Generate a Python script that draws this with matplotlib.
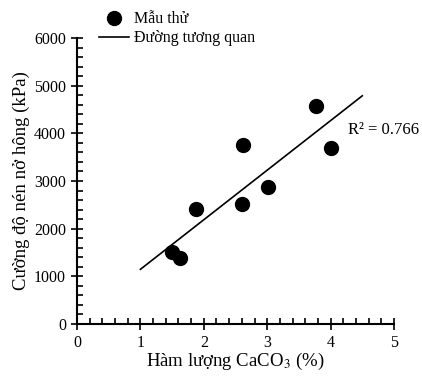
import numpy as np
import matplotlib
matplotlib.use("Agg")
import matplotlib.pyplot as plt
from matplotlib.ticker import MultipleLocator

# số liệu
caco3 = np.array([1.50, 1.62, 1.88, 2.60, 2.62, 3.01, 3.77, 4.01])
cuong_do = np.array([1510, 1385, 2410, 2515, 3750, 2870, 4575, 3690])
x_duong = np.array([1.0, 4.5])
r2_text = "R² = 0.766"

# hồi quy tuyến tính
he_so = np.polyfit(caco3, cuong_do, 1)
y_duong = np.polyval(he_so, x_duong)

plt.rcParams['font.family'] = ['Liberation Serif', 'DejaVu Serif']
plt.rcParams['mathtext.fontset'] = 'stix'

fig = plt.figure(figsize=(4.22, 3.78), dpi=100)
ax = fig.add_axes([0.1825, 0.1429, 0.7511, 0.7566])

ax.plot(caco3, cuong_do, 'o', color='black', markersize=10, label='Mẫu thử', zorder=3)
ax.plot(x_duong, y_duong, '-', color='black', linewidth=1.2, label='Đường tương quan')
ax.text(4.27, 4080, r2_text, fontsize=12, va='center', ha='left', clip_on=False)

ax.set_xlim(0, 5)
ax.set_ylim(0, 6000)
ax.xaxis.set_major_locator(MultipleLocator(1))
ax.xaxis.set_minor_locator(MultipleLocator(0.2))
ax.yaxis.set_major_locator(MultipleLocator(1000))
ax.yaxis.set_minor_locator(MultipleLocator(200))
ax.tick_params(which='major', direction='inout', length=8, width=1.2, labelsize=11.5, pad=4)
ax.tick_params(which='minor', direction='in', length=4, width=1.2)

for s in ['top', 'right']:
    ax.spines[s].set_visible(False)
for s in ['left', 'bottom']:
    ax.spines[s].set_linewidth(1.5)

ax.set_xlabel('Hàm lượng CaCO$_3$ (%)', fontsize=13.5, labelpad=0)
ax.set_ylabel('Cường độ nén nở hông (kPa)', fontsize=13.5, labelpad=3)

fig.legend(loc='upper left', bbox_to_anchor=(0.207, 1.0), frameon=False,
           fontsize=11.5, handlelength=1.9, handletextpad=0.3,
           labelspacing=0.2, borderaxespad=0.3)

fig.savefig('out.png', dpi=100)
